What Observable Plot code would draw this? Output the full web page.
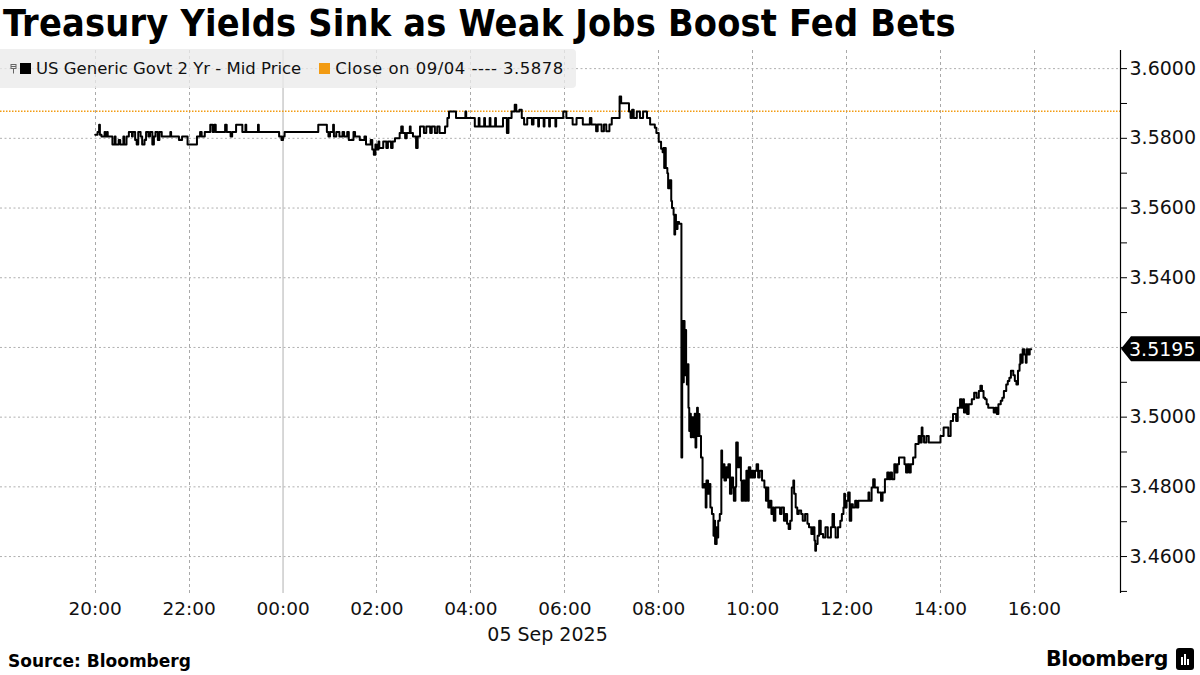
<!DOCTYPE html>
<html>
<head>
<meta charset="utf-8">
<script src="https://cdn.jsdelivr.net/npm/d3@7"></script>
<script src="https://cdn.jsdelivr.net/npm/@observablehq/plot@0.6"></script>
<style>
  html, body { margin: 0; padding: 0; background: #fff; }
  body { width: 1200px; height: 675px; position: relative; overflow: hidden; font-family: "DejaVu Sans", sans-serif; color: #000; }
  #title { position: absolute; left: 3px; top: 3px; font-family: "DejaVu Sans Condensed", "DejaVu Sans", sans-serif; font-weight: bold; font-size: 37.5px; line-height: 40px; white-space: nowrap; letter-spacing: 0.2px; }
  #chart { position: absolute; left: 0; top: 48px; }
  #legend { position: absolute; left: 0; top: 49px; width: 576px; height: 39px; background: rgba(234,234,234,0.78); border-radius: 0 4px 4px 0; display: flex; align-items: center; font-size: 16.5px; color: #111; white-space: nowrap; }
  #legend .sq { display: inline-block; width: 11px; height: 11px; margin-right: 5px; }
  #legend .icon { display: inline-block; width: 7px; height: 11px; margin-left: 10px; margin-right: 3px; }
  #closeName { letter-spacing: 0.5px; }
  #source { position: absolute; left: 8px; top: 651px; font-weight: bold; font-size: 17px; }
  #brand { position: absolute; right: 6px; top: 647px; display: flex; align-items: center; font-weight: bold; font-size: 20.5px; letter-spacing: -0.4px; }
  #brand .logo { display: inline-block; width: 18px; height: 22px; background: #000; border-radius: 3px; margin-left: 8px; position: relative; }
</style>
</head>
<body>
<div id="title">Treasury Yields Sink as Weak Jobs Boost Fed Bets</div>
<div id="chart"></div>
<div id="legend">
  <svg class="icon" viewBox="0 0 7 11"><rect x="1" y="1.5" width="5" height="4" fill="none" stroke="#666" stroke-width="1"/><line x1="3.5" y1="5.5" x2="3.5" y2="10.5" stroke="#666" stroke-width="1"/><line x1="1" y1="3.5" x2="6" y2="3.5" stroke="#666" stroke-width="1"/></svg>
  <span class="sq" style="background:#000"></span><span id="seriesName">US Generic Govt 2 Yr - Mid Price</span>
  <span class="sq" style="background:#f29b13;margin-left:18px"></span><span id="closeName"></span>
</div>
<div id="source">Source: Bloomberg</div>
<div id="brand">Bloomberg<span class="logo"><svg width="18" height="22" viewBox="0 0 18 22"><rect x="5" y="9" width="2" height="8" fill="#fff"/><rect x="8" y="6" width="2" height="11" fill="#fff"/><rect x="11" y="11" width="2" height="6" fill="#fff"/></svg></span></div>
<script>
// ---- data ----
const seriesName = "US Generic Govt 2 Yr - Mid Price";
const closeLabel = "Close on 09/04";
const closeValue = 3.5878;
const dateLabel = "05 Sep 2025";

// times: HH:MM; hours >= 18 are on 04 Sep, others on 05 Sep
const times = [
"20:00","20:03","20:05","20:06","20:08","20:12","20:13","20:15","20:16","20:22",
"20:25","20:26","20:30","20:32","20:36","20:37","20:40","20:43","20:47","20:48",
"20:51","20:53","20:55","20:58","21:00","21:03","21:05","21:08","21:10","21:13",
"21:15","21:17","21:20","21:22","21:25","21:36","21:37","21:47","21:51","21:58",
"22:10","22:14","22:16","22:20","22:27","22:30","22:32","22:34","22:46","22:48",
"22:53","22:55","23:00","23:08","23:12","23:13","23:28","23:29","23:55","23:58",
"00:00","00:02","00:45","00:56","00:58","01:00","01:04","01:05","01:08","01:12",
"01:16","01:18","01:22","01:24","01:30","01:32","01:38","01:44","01:46","01:52",
"01:54","01:56","01:58","02:00","02:02","02:03","02:08","02:12","02:14","02:18",
"02:20","02:23","02:29","02:31","02:33","02:36","02:38","02:42","02:43","02:46",
"02:50","02:52","02:55","03:00","03:03","03:08","03:10","03:14","03:17","03:20",
"03:27","03:30","03:32","03:41","03:53","03:54","04:05","04:10","04:11","04:17",
"04:18","04:24","04:25","04:31","04:32","04:41","04:46","04:48","04:52","04:56",
"04:58","05:02","05:05","05:08","05:12","05:18","05:20","05:26","05:27","05:33",
"05:34","05:40","05:41","05:48","05:49","05:58","06:02","06:10","06:15","06:23",
"06:32","06:34","06:40","06:42","06:47","06:50","06:53","06:57","07:00","07:10",
"07:12","07:22","07:24","07:26","07:28","07:32","07:36","07:40","07:45","07:49",
"07:55","07:57","08:00","08:03","08:05","08:06","08:07","08:08","08:09","08:11",
"08:12","08:14","08:16","08:17","08:19","08:20","08:21","08:22","08:24","08:26",
"08:29","08:30","08:31","08:32","08:33","08:34","08:35","08:36","08:37","08:38",
"08:39","08:40","08:41","08:42","08:44","08:46","08:47","08:48","08:49","08:50",
"08:51","08:52","08:54","08:56","08:58","09:00","09:01","09:03","09:05","09:06",
"09:08","09:10","09:11","09:12","09:14","09:15","09:16","09:18","09:20","09:21",
"09:23","09:24","09:26","09:28","09:29","09:31","09:33","09:35","09:36","09:38",
"09:39","09:41","09:43","09:45","09:46","09:48","09:50","09:52","09:54","09:55",
"09:57","09:59","10:01","10:03","10:05","10:07","10:09","10:12","10:15","10:17",
"10:18","10:20","10:22","10:24","10:26","10:27","10:29","10:32","10:35","10:37",
"10:40","10:42","10:44","10:46","10:48","10:50","10:52","10:53","10:55","10:57",
"10:59","11:02","11:04","11:07","11:10","11:12","11:15","11:17","11:19","11:20",
"11:21","11:23","11:25","11:27","11:30","11:33","11:36","11:40","11:42","11:44",
"11:46","11:49","11:52","11:54","11:56","11:57","11:58","12:00","12:02","12:04",
"12:06","12:08","12:11","12:13","12:15","12:28","12:29","12:32","12:34","12:36",
"12:40","12:44","12:46","12:49","12:52","12:54","12:56","12:58","13:01","13:03",
"13:05","13:07","13:12","13:14","13:16","13:18","13:20","13:22","13:25","13:28",
"13:32","13:34","13:36","13:37","13:39","13:42","13:45","13:50","14:00","14:04",
"14:10","14:13","14:16","14:20","14:22","14:25","14:27","14:29","14:30","14:32",
"14:34","14:36","14:40","14:43","14:46","14:49","14:51","14:53","14:55","14:57",
"14:59","15:01","15:06","15:08","15:10","15:12","15:14","15:17","15:19","15:21",
"15:24","15:26","15:28","15:30","15:33","15:35","15:37","15:39","15:41","15:42",
"15:44","15:45","15:47","15:49","15:50","15:52","15:54","15:56"
];
const yields = [
3.5810,3.5818,3.5839,3.5810,3.5805,3.5818,3.5805,3.5818,3.5805,3.5782,
3.5805,3.5782,3.5795,3.5782,3.5805,3.5782,3.5805,3.5818,3.5805,3.5818,
3.5795,3.5782,3.5818,3.5805,3.5782,3.5795,3.5818,3.5805,3.5818,3.5782,
3.5805,3.5818,3.5795,3.5818,3.5805,3.5818,3.5805,3.5795,3.5805,3.5782,
3.5805,3.5818,3.5805,3.5818,3.5839,3.5818,3.5839,3.5818,3.5839,3.5818,
3.5805,3.5818,3.5839,3.5818,3.5839,3.5818,3.5839,3.5818,3.5805,3.5795,
3.5805,3.5818,3.5839,3.5818,3.5805,3.5818,3.5839,3.5805,3.5818,3.5805,
3.5818,3.5805,3.5818,3.5795,3.5818,3.5805,3.5795,3.5805,3.5782,3.5795,
3.5768,3.5753,3.5782,3.5768,3.5791,3.5772,3.5791,3.5772,3.5791,3.5772,
3.5791,3.5800,3.5815,3.5834,3.5815,3.5800,3.5815,3.5834,3.5815,3.5805,
3.5772,3.5805,3.5834,3.5815,3.5834,3.5815,3.5834,3.5815,3.5834,3.5815,
3.5834,3.5858,3.5877,3.5858,3.5877,3.5858,3.5834,3.5858,3.5834,3.5858,
3.5834,3.5858,3.5834,3.5858,3.5834,3.5858,3.5815,3.5858,3.5877,3.5896,
3.5877,3.5882,3.5858,3.5840,3.5858,3.5840,3.5858,3.5834,3.5858,3.5834,
3.5858,3.5834,3.5858,3.5834,3.5858,3.5877,3.5858,3.5840,3.5858,3.5840,
3.5858,3.5840,3.5820,3.5840,3.5820,3.5840,3.5820,3.5840,3.5858,3.5920,
3.5901,3.5877,3.5858,3.5882,3.5858,3.5877,3.5858,3.5877,3.5858,3.5840,
3.5830,3.5815,3.5790,3.5770,3.5760,3.5772,3.5715,3.5772,3.5715,3.5700,
3.5657,3.5680,3.5620,3.5600,3.5581,3.5524,3.5581,3.5540,3.5560,3.5555,
3.4884,3.5276,3.5100,3.5276,3.5120,3.5250,3.5150,3.5094,3.5152,3.5027,
3.4960,3.5010,3.4942,3.5000,3.4942,3.5010,3.4913,3.4960,3.5027,3.4946,
3.5009,3.4946,3.4884,3.4798,3.4808,3.4741,3.4818,3.4780,3.4808,3.4741,
3.4722,3.4660,3.4703,3.4636,3.4684,3.4655,3.4703,3.4722,3.4904,3.4827,
3.4865,3.4818,3.4856,3.4827,3.4865,3.4780,3.4827,3.4798,3.4760,3.4800,
3.4927,3.4856,3.4884,3.4818,3.4760,3.4818,3.4760,3.4846,3.4760,3.4856,
3.4827,3.4846,3.4827,3.4846,3.4865,3.4827,3.4846,3.4818,3.4798,3.4760,
3.4798,3.4741,3.4760,3.4722,3.4741,3.4703,3.4741,3.4741,3.4722,3.4741,
3.4703,3.4722,3.4694,3.4679,3.4703,3.4798,3.4818,3.4780,3.4741,3.4722,
3.4732,3.4722,3.4703,3.4722,3.4694,3.4684,3.4665,3.4684,3.4646,3.4617,
3.4636,3.4660,3.4703,3.4665,3.4655,3.4684,3.4655,3.4684,3.4722,3.4684,
3.4655,3.4684,3.4703,3.4722,3.4741,3.4780,3.4741,3.4760,3.4784,3.4703,
3.4750,3.4741,3.4760,3.4741,3.4760,3.4784,3.4760,3.4798,3.4822,3.4798,
3.4784,3.4760,3.4784,3.4822,3.4841,3.4822,3.4841,3.4822,3.4865,3.4841,
3.4865,3.4884,3.4884,3.4865,3.4841,3.4865,3.4841,3.4865,3.4884,3.4923,
3.4946,3.4927,3.4970,3.4946,3.4927,3.4946,3.4927,3.4927,3.4946,3.4970,
3.4946,3.4989,3.5009,3.4989,3.5027,3.5051,3.5027,3.5051,3.5013,3.5037,
3.5009,3.5037,3.5051,3.5070,3.5056,3.5075,3.5090,3.5075,3.5056,3.5051,
3.5037,3.5027,3.5027,3.5013,3.5027,3.5009,3.5037,3.5047,3.5056,3.5075,
3.5094,3.5104,3.5113,3.5133,3.5120,3.5104,3.5094,3.5133,3.5152,3.5180,
3.5156,3.5195,3.5180,3.5156,3.5195,3.5180,3.5195,3.5195
];

const xTickLabels = ["20:00","22:00","00:00","02:00","04:00","06:00","08:00","10:00","12:00","14:00","16:00"];
const dayBreak = "00:00";
const yMajorTicks = [3.46, 3.48, 3.50, 3.52, 3.54, 3.56, 3.58, 3.60];
const yMinorTicks = [3.45, 3.47, 3.49, 3.51, 3.53, 3.55, 3.57, 3.59];
const xDomainStart = {day: 4, time: "17:59"};
const xDomainEnd = {day: 5, time: "17:50"};
const yDomain = [3.4494, 3.6052];

// ---- build ----
const parseT = (s, day) => {
  const [h, m] = s.split(":").map(Number);
  const d = day != null ? day : (h >= 18 ? 4 : 5);
  return new Date(Date.UTC(2025, 8, d, h, m));
};
const data = times.map((t, i) => ({date: parseT(t), value: yields[i]}));
const xDomain = [parseT(xDomainStart.time, xDomainStart.day), parseT(xDomainEnd.time, xDomainEnd.day)];
const xTicks = xTickLabels.map(s => parseT(s));
const xGridTicks = xTicks.filter(d => +d !== +parseT(dayBreak));
const lastValue = yields[yields.length - 1];

document.getElementById("closeName").textContent = `${closeLabel} ---- ${closeValue.toFixed(4)}`;
document.getElementById("seriesName").textContent = seriesName;

// vertical dashed grid drawn as explicit svg lines through the x scale
const vGrid = (index, scales, values, dims) => {
  const g = d3.create("svg:g");
  for (const t of xGridTicks) {
    const x = Math.round(scales.x(t)) + 0.5;
    g.append("line")
      .attr("x1", x).attr("x2", x)
      .attr("y1", dims.marginTop).attr("y2", dims.height - dims.marginBottom)
      .attr("stroke", "#a9a9a9").attr("stroke-width", 1)
      .attr("stroke-dasharray", "3,3");
  }
  return g.node();
};

const tagMark = (index, scales, values, dims) => {
  const y = scales.y(lastValue);
  const x0 = dims.width - dims.marginRight;
  const g = d3.create("svg:g");
  g.append("path")
    .attr("d", `M${x0 + 1},${y} L${x0 + 11},${y - 12.5} H${dims.width} V${y + 12.5} H${x0 + 11} Z`)
    .attr("fill", "#000");
  g.append("text")
    .attr("x", x0 + 9).attr("y", y).attr("dy", "0.36em")
    .attr("text-anchor", "start")
    .attr("fill", "#fff")
    .attr("font-size", 19)
    .attr("font-family", "DejaVu Sans")
    .text(lastValue.toFixed(4));
  return g.node();
};

const chart = Plot.plot({
  width: 1200,
  height: 600,
  marginLeft: 0,
  marginRight: 80,
  marginTop: 2,
  marginBottom: 55,
  style: {fontFamily: "DejaVu Sans", fontSize: "18px", color: "#111", background: "transparent", overflow: "visible"},
  x: {type: "utc", domain: xDomain},
  y: {domain: yDomain},
  marks: [
    vGrid,
    Plot.gridY(yMajorTicks, {stroke: "#b0b0b0", strokeOpacity: 1, strokeDasharray: "2,2.5"}),
    Plot.ruleX([parseT(dayBreak)], {stroke: "#b0b0b0", strokeWidth: 1}),
    Plot.ruleY([closeValue], {stroke: "#f29b13", strokeWidth: 1.5, strokeDasharray: "1.5,1.5"}),
    Plot.line(data, {x: "date", y: "value", curve: "step-after", stroke: "#000", strokeWidth: 2}),
    Plot.ruleX([xDomain[1]], {stroke: "#000", strokeWidth: 1.2}),
    Plot.axisY(yMajorTicks, {anchor: "right", tickSize: 6, tickPadding: 3, tickFormat: d => d.toFixed(4), label: null, fontSize: 19, stroke: "#000"}),
    Plot.axisY(yMinorTicks, {anchor: "right", tickSize: 6, tickFormat: () => "", label: null, stroke: "#000"}),
    Plot.axisX(xTicks, {anchor: "bottom", tickSize: 0, tickPadding: 8, tickFormat: d3.utcFormat("%H:%M"), label: null, fontSize: 18.5}),
    Plot.text([dateLabel], {frameAnchor: "bottom", dy: 47, dx: -13, text: d => d, fontSize: 19, fill: "#111"}),
    tagMark
  ]
});
document.getElementById("chart").appendChild(chart);
</script>
</body>
</html>
